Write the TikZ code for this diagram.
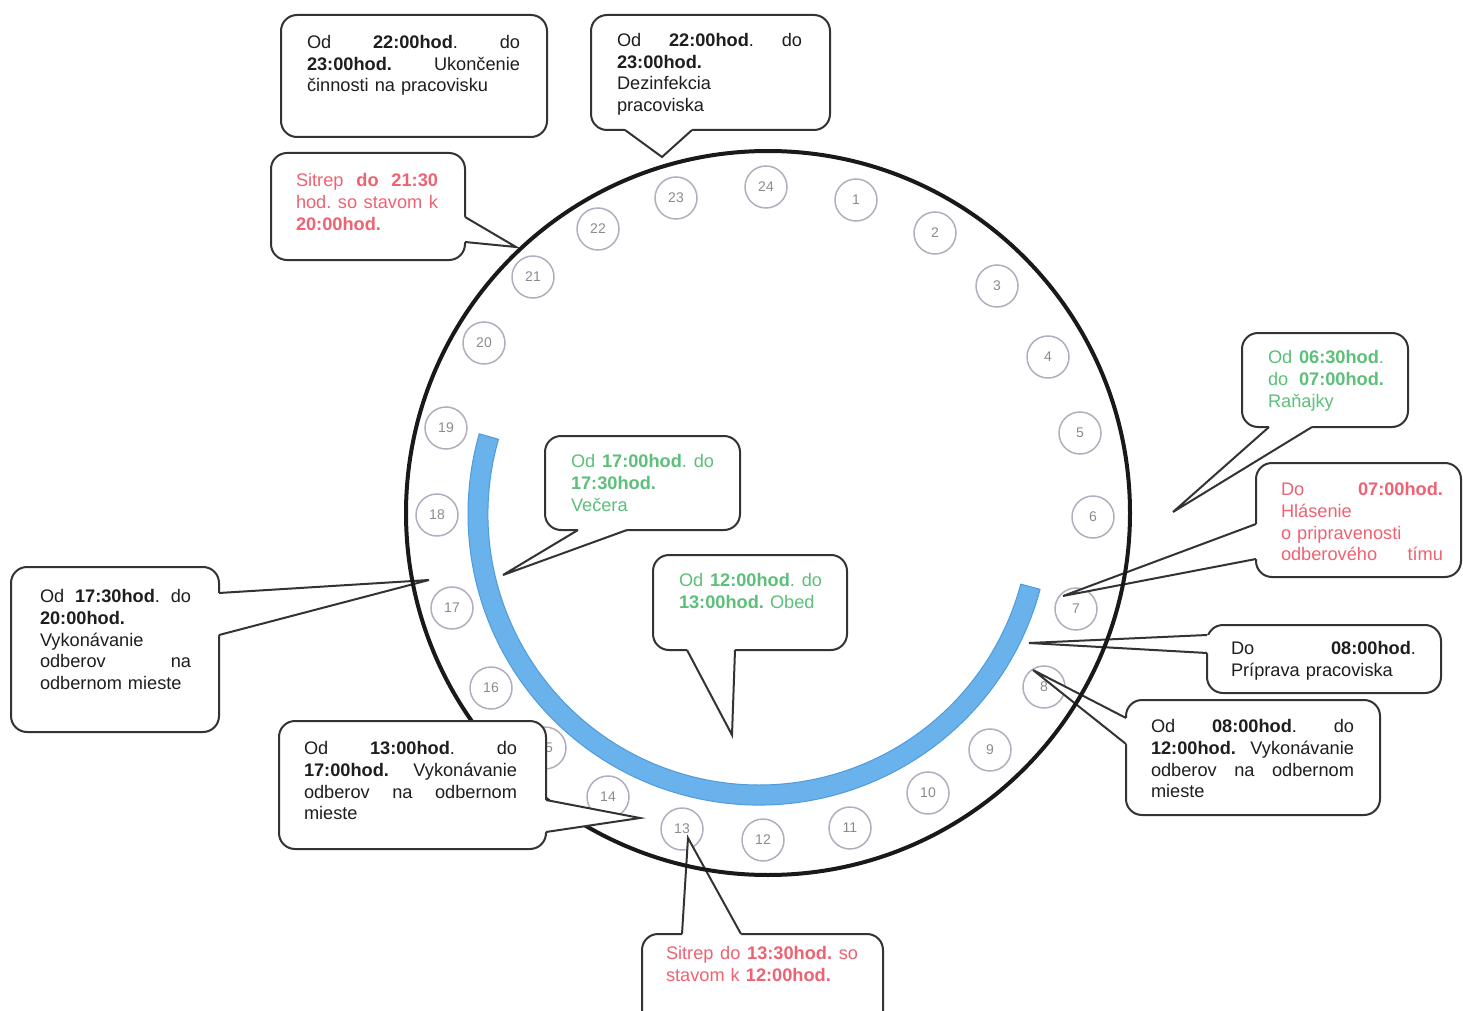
\documentclass[tikz,border=0pt]{standalone}
\usepackage{fontspec}
\setmainfont{Liberation Sans}
\usetikzlibrary{calc}
\definecolor{ink}{HTML}{1E1E1E}
\definecolor{gtxt}{HTML}{5CBF7A}
\definecolor{rtxt}{HTML}{EE6272}
\definecolor{bluefill}{HTML}{69B2EC}
\definecolor{blueedge}{HTML}{4F9BDC}
\definecolor{hourc}{HTML}{B4ADC0}
\definecolor{hourt}{HTML}{8C8C8C}
\definecolor{boxline}{HTML}{333333}
\def\jw{100pt}
\newcommand\jline[1]{\noindent\hbox to\jw{\rule{0pt}{7pt}#1}\par}
\newcommand\pline[1]{\noindent\rule{0pt}{7pt}#1\par}
\newcommand\mkbox[5]{\node[cbox, minimum width={(#4-#2)*0.5pt}, minimum height={(#5-#3)*0.5pt}] (#1) at ({(#2+#4)/2},{(#3+#5)/2}) {};}
\newcommand\callwedge[6]{%
  \coordinate (#1a) at (#2);
  \coordinate (#1b) at (#3);
  \fill[white] ([xshift=#5,yshift=#6]#1a) -- (#1a) -- (#4) -- (#1b) -- ([xshift=#5,yshift=#6]#1b) -- cycle;
  \draw[wline] (#1a) -- (#4) -- (#1b);}
\begin{document}
\begin{tikzpicture}[x=0.5pt, y=-0.5pt,
  cbox/.style={draw=boxline, line width=1pt, fill=white, rounded corners=8pt, inner sep=0pt, outer sep=0pt},
  wline/.style={draw=boxline, line width=1pt, line join=miter},
  txt/.style={anchor=north west, inner sep=0pt, outer sep=0pt, text width=#1,
    execute at begin node={\def\jw{#1}},
    font=\fontsize{9.1}{10.85}\selectfont\frenchspacing, text=ink},
  hour/.style={circle, draw=hourc, line width=0.75pt, minimum size=21pt, inner sep=0pt,
    font=\fontsize{7}{8}\selectfont, text=hourt},
  clockface/.style={circle, draw=black!90, line width=2pt, minimum size=362pt, inner sep=0pt}]
\fill[white] (0,0) rectangle (1463,1011);
\useasboundingbox (0,0) rectangle (1463,1011);

% blue arc (working period)
\coordinate (bc) at (759,514);
\filldraw[fill=bluefill, draw=blueedge, line width=0.5pt]
  ($(bc)+(15:291)$) arc[start angle=15, end angle=196, radius=291]
  -- ($(bc)+(196:271)$) arc[start angle=196, end angle=15, radius=271] -- cycle;

% hour circles
\foreach \h/\px/\py in {24/766/187, 1/856/200, 2/935/233, 3/997/286, 4/1048/357, 5/1080/433,
  6/1093/517, 7/1076/609, 8/1044/687, 9/990/750, 10/928/793, 11/850/828, 12/763/840,
  13/682/829, 14/608/797, 15/545/748, 16/491/688, 17/452/608, 18/437/515, 19/446/428,
  20/484/343, 21/533/277, 22/598/229, 23/676/198}
  \node[hour] (h\h) at (\px,\py) {\h};

% tips of the callouts
\coordinate (pB) at (662,157);
\coordinate (pC) at (516,247);
\coordinate (pD) at (1173,512);
\coordinate (pE) at (1063,596);
\coordinate (pF) at (1029,643);
\coordinate (pG) at (1033,670);
\coordinate (pH) at (429,580);
\coordinate (pI) at (640,818);
\coordinate (pJ) at (503,575);
\coordinate (pK) at (732,735);
\coordinate (pL) at (688,838);

% callout A
\mkbox{bA}{281}{15}{547}{137}
\node[txt=106.5pt] (tA) at (307,34.6) {\jline{Od\hfill\textbf{22:00hod}.\hfill do}\jline{\textbf{23:00hod.}\hfill Ukončenie}\pline{činnosti na pracovisku}};

% callout B
\mkbox{bB}{591}{15}{830}{130}
\callwedge{wB}{bB.south -| 625,0}{bB.south -| 692,0}{pB}{0pt}{1.5pt}
\node[txt=92.5pt] (tB) at (617,32.6) {\jline{Od\hfill\textbf{22:00hod}.\hfill do}\pline{\textbf{23:00hod.}}\pline{Dezinfekcia}\pline{pracoviska}};

% callout C
\mkbox{bC}{271}{153}{465}{260}
\callwedge{wC}{bC.east |- 0,217}{bC.east |- 0,242}{pC}{-1.5pt}{0pt}
\node[txt=71pt, text=rtxt] (tC) at (296,172.6) {\jline{Sitrep\hfill\textbf{do}\hfill\textbf{21:30}}\jline{hod.\hfill so\hfill stavom\hfill k}\pline{\textbf{20:00hod.}}};

% callout D
\mkbox{bD}{1242}{333}{1408}{427}
\callwedge{wD}{bD.south -| 1269,0}{bD.south -| 1312,0}{pD}{0pt}{1.5pt}
\node[txt=58pt, text=gtxt] (tD) at (1268,349.6) {\jline{Od\hfill\textbf{06:30hod}.}\jline{do\hfill\textbf{07:00hod.}}\pline{Raňajky}};

% callout E
\mkbox{bE}{1256}{463}{1461}{577}
\callwedge{wE}{bE.west |- 0,524}{bE.west |- 0,559}{pE}{1.5pt}{0pt}
\node[txt=81pt, text=rtxt] (tE) at (1281,481.6) {\jline{Do\hfill\textbf{07:00hod.}}\pline{Hlásenie}\pline{o pripravenosti}\jline{odberového\hfill tímu}};

% callout F
\mkbox{bF}{1207}{625}{1441}{693}
\callwedge{wF}{bF.west |- 0,635}{bF.west |- 0,653}{pF}{1.5pt}{0pt}
\node[txt=92.5pt] (tF) at (1231,640.6) {\jline{Do\hfill\textbf{08:00hod}.}\pline{Príprava pracoviska}};

% callout G
\mkbox{bG}{1126}{700}{1380}{815}
\callwedge{wG}{bG.west |- 0,718}{bG.west |- 0,744}{pG}{1.5pt}{0pt}
\node[txt=101.5pt] (tG) at (1151,718.6) {\jline{Od\hfill\textbf{08:00hod}.\hfill do}\jline{\textbf{12:00hod.}\hfill Vykonávanie}\jline{odberov\hfill na\hfill odbernom}\pline{mieste}};

% callout H
\mkbox{bH}{11}{567}{219}{732}
\callwedge{wH}{bH.east |- 0,593}{bH.east |- 0,635}{pH}{-1.5pt}{0pt}
\node[txt=75.5pt] (tH) at (40,588.6) {\jline{Od\hfill\textbf{17:30hod}.\hfill do}\pline{\textbf{20:00hod.}}\pline{Vykonávanie}\jline{odberov\hfill na}\pline{odbernom mieste}};

% callout J
\mkbox{bJ}{545}{436}{740}{530}
\callwedge{wJ}{bJ.south -| 578,0}{bJ.south -| 627,0}{pJ}{0pt}{1.5pt}
\node[txt=71.5pt, text=gtxt] (tJ) at (571,453.6) {\jline{Od\hfill\textbf{17:00hod}.\hfill do}\pline{\textbf{17:30hod.}}\pline{Večera}};

% callout K
\mkbox{bK}{653}{555}{847}{650}
\callwedge{wK}{bK.south -| 687,0}{bK.south -| 735,0}{pK}{0pt}{1.5pt}
\node[txt=71.5pt, text=gtxt] (tK) at (679,572.6) {\jline{Od\hfill\textbf{12:00hod}.\hfill do}\pline{\textbf{13:00hod.} Obed}};

% callout L
\mkbox{bL}{642}{934}{883}{1030}
\callwedge{wL}{bL.north -| 682,0}{bL.north -| 741,0}{pL}{0pt}{-1.5pt}
\node[txt=96pt, text=rtxt] (tL) at (666,945.6) {\jline{Sitrep\hfill do\hfill\textbf{13:30hod.}\hfill so}\pline{stavom k \textbf{12:00hod.}}};

% clock face
\node[clockface] (clock) at (768,513) {};

% callout I (lies over the clock face)
\mkbox{bI}{279}{721}{546}{849}
\callwedge{wI}{bI.east |- 0,800}{bI.east |- 0,832}{pI}{-1.5pt}{0pt}
\node[txt=106.5pt] (tI) at (304,740.6) {\jline{Od\hfill\textbf{13:00hod}.\hfill do}\jline{\textbf{17:00hod.}\hfill Vykonávanie}\jline{odberov\hfill na\hfill odbernom}\pline{mieste}};
\end{tikzpicture}
\end{document}
